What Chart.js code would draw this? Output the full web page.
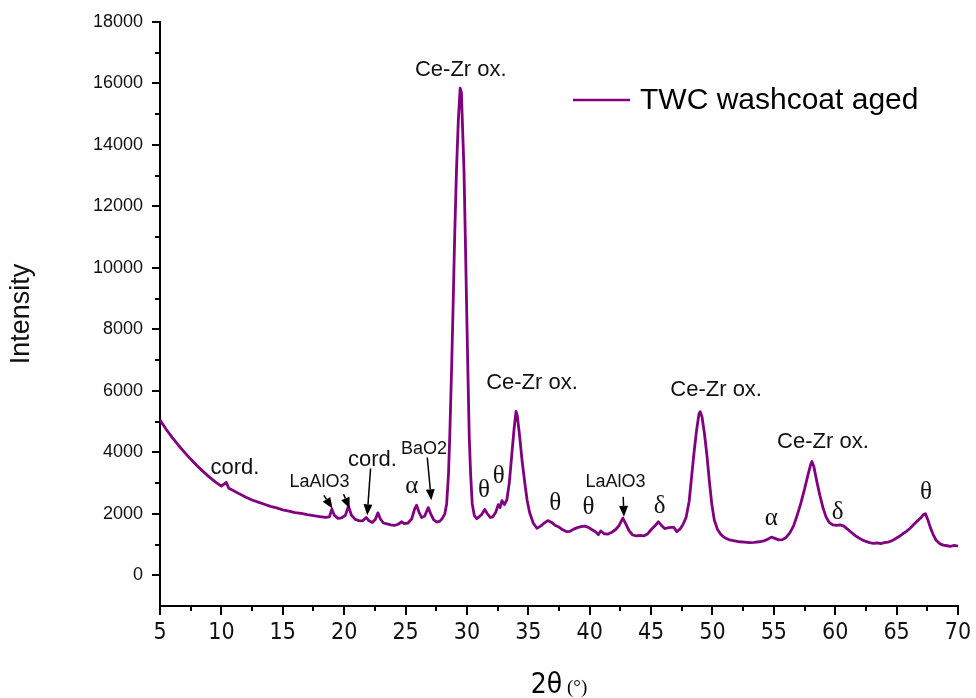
<!DOCTYPE html>
<html>
<head>
<meta charset="utf-8">
<script src="https://cdn.jsdelivr.net/npm/chart.js@4.4.0/dist/chart.umd.min.js"></script>
<style>
  body { margin: 0; background: #fff; }
  #wrap { width: 976px; height: 698px; }
</style>
</head>
<body>
<div id="wrap"><canvas id="xrd" width="976" height="698"></canvas></div>
<script>
const twoTheta = [
  5.0, 5.5, 6.0, 6.5, 7.0, 7.5, 8.0, 8.5, 9.0, 9.5, 10.0, 10.4, 10.6, 11.0, 11.5, 12.0, 12.5, 13.0, 13.5, 14.0,
  14.5, 15.0, 15.5, 16.0, 16.5, 17.0, 17.5, 18.0, 18.5, 18.8, 19.0, 19.2, 19.5, 19.8, 20.1, 20.35, 20.6, 20.9, 21.2, 21.5,
  21.8, 22.0, 22.3, 22.55, 22.75, 22.95, 23.2, 23.5, 23.8, 24.1, 24.4, 24.7, 24.9, 25.2, 25.5, 25.75, 25.9, 26.1, 26.3, 26.55,
  26.85, 27.05, 27.3, 27.55, 27.8, 28.0, 28.2, 28.35, 28.5, 28.6, 28.75, 28.88, 29.0, 29.15, 29.3, 29.45, 29.55, 29.65, 29.76, 29.87,
  29.97, 30.08, 30.19, 30.3, 30.43, 30.6, 30.8, 31.0, 31.2, 31.45, 31.65, 31.9, 32.1, 32.35, 32.55, 32.7, 32.85, 33.05, 33.25, 33.45,
  33.65, 33.85, 34.0, 34.1, 34.3, 34.5, 34.7, 34.9, 35.1, 35.4, 35.7, 36.0, 36.3, 36.6, 36.9, 37.2, 37.5, 37.8, 38.1, 38.4,
  38.7, 39.0, 39.3, 39.6, 39.9, 40.2, 40.5, 40.7, 40.9, 41.2, 41.5, 41.8, 42.1, 42.4, 42.7, 42.95, 43.2, 43.5, 43.8, 44.1,
  44.4, 44.7, 45.0, 45.3, 45.6, 45.85, 46.1, 46.35, 46.6, 46.85, 47.1, 47.35, 47.6, 47.85, 48.1, 48.3, 48.5, 48.7, 48.9, 49.0,
  49.15, 49.35, 49.55, 49.75, 49.95, 50.15, 50.4, 50.7, 51.0, 51.4, 51.8, 52.2, 52.6, 53.0, 53.4, 53.8, 54.2, 54.5, 54.8, 55.1,
  55.4, 55.7, 56.0, 56.3, 56.6, 56.9, 57.2, 57.5, 57.8, 58.0, 58.1, 58.25, 58.5, 58.75, 59.0, 59.25, 59.5, 59.8, 60.1, 60.4,
  60.7, 61.0, 61.3, 61.6, 61.9, 62.2, 62.5, 62.8, 63.1, 63.4, 63.7, 64.0, 64.3, 64.6, 64.9, 65.2, 65.5, 65.8, 66.1, 66.4,
  66.7, 67.0, 67.2, 67.35, 67.55, 67.75, 67.95, 68.2, 68.5, 68.8, 69.1, 69.4, 69.7, 70.0
];
const intensity = [
  5050, 4750, 4480, 4230, 4000, 3780, 3570, 3380, 3200, 3040, 2900, 3020, 2830, 2750, 2640, 2540, 2450, 2380, 2310, 2240,
  2190, 2130, 2090, 2040, 2010, 1970, 1940, 1910, 1880, 1900, 2150, 1950, 1850, 1870, 1950, 2250, 1950, 1820, 1780, 1770,
  1880, 1780, 1720, 1820, 2030, 1830, 1700, 1670, 1640, 1620, 1660, 1740, 1680, 1700, 1830, 2170, 2280, 2050, 1880, 1920,
  2200, 2000, 1800, 1730, 1760, 1850, 2000, 2330, 3300, 4500, 6700, 8850, 11000, 13190, 14800, 15850, 15700, 14500, 13190, 11000,
  8850, 6600, 4500, 3300, 2330, 1950, 1840, 1900, 1980, 2140, 2010, 1880, 1900, 2050, 2300, 2200, 2430, 2300, 2450, 3000,
  3900, 4800, 5330, 5200, 4500, 3700, 3050, 2450, 2050, 1700, 1530, 1600, 1700, 1780, 1720, 1620, 1570, 1480, 1420, 1430,
  1500, 1550, 1580, 1600, 1560, 1480, 1410, 1320, 1440, 1350, 1340, 1400, 1480, 1620, 1860, 1660, 1450, 1310, 1280, 1300,
  1280, 1340, 1480, 1600, 1740, 1620, 1520, 1540, 1560, 1560, 1420, 1500, 1650, 1880, 2400, 3200, 4000, 4700, 5250, 5320,
  5150, 4600, 3900, 3050, 2300, 1800, 1500, 1320, 1220, 1150, 1120, 1090, 1080, 1060, 1070, 1090, 1120, 1170, 1240, 1200,
  1150, 1160, 1230, 1380, 1600, 1950, 2350, 2800, 3300, 3600, 3700, 3550, 3050, 2600, 2200, 1900, 1720, 1640, 1620, 1640,
  1600, 1500, 1400, 1300, 1220, 1150, 1100, 1060, 1040, 1050, 1030, 1060, 1080, 1120, 1190, 1260, 1350, 1430, 1530, 1650,
  1770, 1880, 1980, 2000, 1800, 1550, 1350, 1150, 1030, 980, 960, 940, 970, 950
];
const xTickValues = [5, 10, 15, 20, 25, 30, 35, 40, 45, 50, 55, 60, 65, 70];
const yTickValues = [0, 2000, 4000, 6000, 8000, 10000, 12000, 14000, 16000, 18000];
const seriesName = 'TWC washcoat aged';

// phase labels: [text, 2theta, intensity, style]
const peakLabels = [
  ['Ce-Zr ox.', 29.5, 16450, 'sans'],
  ['Ce-Zr ox.', 35.3, 6250, 'sans'],
  ['Ce-Zr ox.', 50.3, 6030, 'sans'],
  ['Ce-Zr ox.', 59.0, 4340, 'sans'],
  ['cord.', 11.1, 3480, 'sans'],
  ['cord.', 22.3, 3745, 'sans'],
  ['LaAlO3', 18.0, 3040, 'small'],
  ['BaO2', 26.5, 4120, 'small'],
  ['LaAlO3', 42.1, 3040, 'small'],
  ['α', 25.5, 2900, 'greek'],
  ['θ', 31.4, 2770, 'greek'],
  ['θ', 32.6, 3200, 'greek'],
  ['θ', 37.2, 2330, 'greek'],
  ['θ', 39.9, 2220, 'greek'],
  ['δ', 45.7, 2250, 'greek'],
  ['α', 54.8, 1850, 'greek'],
  ['δ', 60.2, 2060, 'greek'],
  ['θ', 67.4, 2710, 'greek']
];
// arrows: [from 2theta, from intensity, to 2theta, to intensity]
const arrows = [
  [18.35, 2600, 19.05, 2170],
  [19.95, 2640, 20.45, 2170],
  [22.15, 3475, 21.88, 1950],
  [26.77, 3830, 27.1, 2440],
  [42.73, 2550, 42.79, 1900]
];

const sans = "'Liberation Sans', Arial, sans-serif";
const narrow = "'Liberation Sans Narrow', 'DejaVu Sans Condensed', 'Liberation Sans', sans-serif";
const serif = "'Liberation Serif', 'Times New Roman', serif";
const purple = 'rgb(128, 0, 128)';

const decor = {
  id: 'decor',
  afterDraw(chart) {
    const { ctx, chartArea, scales } = chart;
    const x = scales.x, y = scales.y;
    ctx.save();
    ctx.strokeStyle = '#000';
    ctx.lineWidth = 2;
    // x ticks (major + minor)
    for (let v = 5; v <= 70; v += 2.5) {
      const px = Math.round(x.getPixelForValue(v));
      const len = v % 5 === 0 ? 9 : 5;
      ctx.beginPath();
      ctx.moveTo(px, chartArea.bottom);
      ctx.lineTo(px, chartArea.bottom + len);
      ctx.stroke();
    }
    // y ticks
    for (let v = 0; v <= 18000; v += 1000) {
      const py = Math.round(y.getPixelForValue(v));
      const len = v % 2000 === 0 ? 8 : 5;
      ctx.beginPath();
      ctx.moveTo(chartArea.left, py);
      ctx.lineTo(chartArea.left - len, py);
      ctx.stroke();
    }

    // labels
    ctx.fillStyle = '#111';
    ctx.textAlign = 'center';
    ctx.textBaseline = 'middle';
    peakLabels.forEach(([t, vx, vy, kind]) => {
      if (kind === 'sans') ctx.font = '22px ' + sans;
      else if (kind === 'small') ctx.font = '18px ' + sans;
      else ctx.font = '25px ' + serif;
      ctx.fillText(t, x.getPixelForValue(vx), y.getPixelForValue(vy));
    });

    // arrows
    ctx.fillStyle = '#000';
    ctx.lineWidth = 1.5;
    arrows.forEach(([x1, y1, x2, y2]) => {
      const ax = x.getPixelForValue(x1), ay = y.getPixelForValue(y1);
      const bx = x.getPixelForValue(x2), by = y.getPixelForValue(y2);
      const ang = Math.atan2(by - ay, bx - ax);
      const hl = 11, hw = 4.5;
      ctx.beginPath();
      ctx.moveTo(ax, ay);
      ctx.lineTo(bx - Math.cos(ang) * hl, by - Math.sin(ang) * hl);
      ctx.stroke();
      ctx.beginPath();
      ctx.moveTo(bx, by);
      ctx.lineTo(bx - Math.cos(ang) * hl - Math.sin(ang) * hw, by - Math.sin(ang) * hl + Math.cos(ang) * hw);
      ctx.lineTo(bx - Math.cos(ang) * hl + Math.sin(ang) * hw, by - Math.sin(ang) * hl - Math.cos(ang) * hw);
      ctx.closePath();
      ctx.fill();
    });

    // legend
    ctx.strokeStyle = purple;
    ctx.lineWidth = 2.5;
    ctx.beginPath();
    ctx.moveTo(573, 100);
    ctx.lineTo(630, 100);
    ctx.stroke();
    ctx.fillStyle = '#000';
    ctx.textAlign = 'left';
    ctx.font = '30px ' + sans;
    ctx.fillText(seriesName, 640, 101);

    // x axis title: 2θ (°)
    const cx = (chartArea.left + chartArea.right) / 2;
    ctx.font = '28px ' + narrow;
    const w1 = ctx.measureText('2θ').width;
    ctx.font = '19px ' + serif;
    const w2 = ctx.measureText(' (°)').width;
    let sx = cx - (w1 + w2) / 2;
    ctx.textBaseline = 'alphabetic';
    ctx.font = '28px ' + narrow;
    ctx.fillText('2θ', sx, 693);
    ctx.font = '19px ' + serif;
    ctx.fillText(' (°)', sx + w1, 693);
    ctx.restore();
  }
};

new Chart(document.getElementById('xrd'), {
  type: 'line',
  data: {
    datasets: [{
      label: seriesName,
      data: twoTheta.map((t, i) => ({ x: t, y: intensity[i] })),
      borderColor: purple,
      borderWidth: 2.8,
      borderJoinStyle: 'round',
      pointRadius: 0,
      tension: 0,
      fill: false
    }]
  },
  options: {
    responsive: false,
    animation: false,
    devicePixelRatio: 1,
    layout: { padding: { left: 0, right: 18, top: 22, bottom: 0 } },
    plugins: { legend: { display: false }, tooltip: { enabled: false } },
    scales: {
      x: {
        type: 'linear',
        min: 5,
        max: 70,
        afterBuildTicks: s => { s.ticks = xTickValues.map(v => ({ value: v })); },
        afterFit: s => { s.height = 92; s.paddingLeft = 0; s.paddingRight = 0; },
        grid: { display: false, drawTicks: false },
        border: { display: true, color: '#000', width: 2 },
        ticks: {
          padding: 13,
          color: '#111',
          font: { family: narrow, size: 23 },
          maxRotation: 0,
          callback: v => String(v)
        }
      },
      y: {
        type: 'linear',
        min: -1000,
        max: 18000,
        afterBuildTicks: s => { s.ticks = yTickValues.map(v => ({ value: v })); },
        afterFit: s => { s.width = 160; s.paddingTop = 0; s.paddingBottom = 0; },
        grid: { display: false, drawTicks: false },
        border: { display: true, color: '#000', width: 2 },
        ticks: {
          padding: 17,
          color: '#111',
          font: { family: sans, size: 18 },
          callback: v => String(v)
        },
        title: {
          display: true,
          text: 'Intensity',
          color: '#111',
          font: { family: sans, size: 27 },
          padding: { top: 5, bottom: 0 }
        }
      }
    }
  },
  plugins: [decor]
});
</script>
</body>
</html>
